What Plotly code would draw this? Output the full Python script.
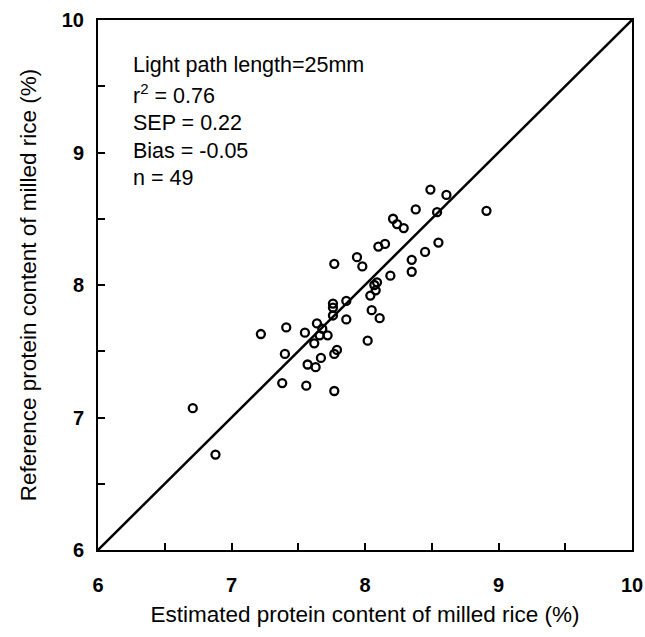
import plotly.graph_objects as go

# Estimated (x) and reference (y) protein content of milled rice (%)
estimated = [7.77, 6.71, 7.22, 7.41, 7.40, 7.38, 7.56, 7.77, 7.55, 7.64,
             7.68, 7.66, 7.72, 7.62, 7.57, 7.63, 7.67, 7.79, 7.77, 7.76,
             7.76, 7.76, 7.86, 7.86, 8.49, 8.61, 8.91, 8.38, 8.54, 8.21,
             8.24, 8.29, 8.15, 8.10, 8.55, 8.45, 8.35, 7.94, 7.98, 8.35,
             8.19, 8.09, 8.07, 8.08, 8.04, 8.05, 8.11, 8.02, 6.88]
reference = [8.16, 7.07, 7.63, 7.68, 7.48, 7.26, 7.24, 7.20, 7.64, 7.71,
             7.67, 7.62, 7.62, 7.56, 7.40, 7.38, 7.45, 7.51, 7.48, 7.86,
             7.83, 7.77, 7.88, 7.74, 8.72, 8.68, 8.56, 8.57, 8.55, 8.50,
             8.46, 8.43, 8.31, 8.29, 8.32, 8.25, 8.19, 8.21, 8.14, 8.10,
             8.07, 8.02, 8.00, 7.96, 7.92, 7.81, 7.75, 7.58, 6.72]

line_x = [6, 10]
line_y = [6, 10]

major_ticks = [6, 7, 8, 9, 10]
major_text = ["6", "7", "8", "9", "10"]
minor_ticks = [6.5, 7.5, 8.5, 9.5]

stats_lines = ["Light path length=25mm", "r<sup>2</sup> = 0.76", "SEP = 0.22",
               "Bias = -0.05", "n = 49"]
stats_y = [9.66, 9.44, 9.22, 9.01, 8.81]

fig = go.Figure()
fig.add_trace(go.Scatter(x=line_x, y=line_y, mode="lines",
                         line=dict(color="black", width=2.5),
                         showlegend=False, hoverinfo="skip"))
fig.add_trace(go.Scatter(x=estimated, y=reference, mode="markers",
                         marker=dict(symbol="circle-open", size=8,
                                     color="black", line=dict(width=2.3, color="black")),
                         showlegend=False))

font_family = "Liberation Sans, Arial, sans-serif"
for txt, yy in zip(stats_lines, stats_y):
    fig.add_annotation(x=6.25, y=yy, xref="x", yref="y", text=txt,
                       showarrow=False, xanchor="left", yanchor="middle",
                       font=dict(family=font_family, size=21.5, color="black"))

axis_common = dict(range=[6, 10], tickvals=major_ticks, ticktext=major_text,
                   ticks="inside", ticklen=7, tickwidth=1.5, tickcolor="black",
                   minor=dict(tickvals=minor_ticks, ticks="inside", ticklen=7,
                              tickwidth=1.5, tickcolor="black", showgrid=False),
                   showline=True, linecolor="black", linewidth=2, mirror=True,
                   showgrid=False, zeroline=False, automargin=False,
                   tickfont=dict(family=font_family, size=20, color="black", weight="bold"))

fig.update_xaxes(**axis_common, ticklabelstandoff=16,
                 title=dict(text="Estimated protein content of milled rice (%)",
                            font=dict(family=font_family, size=22.5, color="black"),
                            standoff=11))
fig.update_yaxes(**axis_common, ticklabelstandoff=8,
                 title=dict(text="Reference protein content of milled rice (%)",
                            font=dict(family=font_family, size=22.5, color="black"),
                            standoff=19))

fig.update_layout(width=645, height=637,
                  margin=dict(l=98, r=13, t=20, b=87),
                  paper_bgcolor="white", plot_bgcolor="white")

fig.write_html("out.html",
               config={"displayModeBar": False},
               post_script="document.body.style.margin='0';"
                           "document.body.style.overflow='hidden';")
